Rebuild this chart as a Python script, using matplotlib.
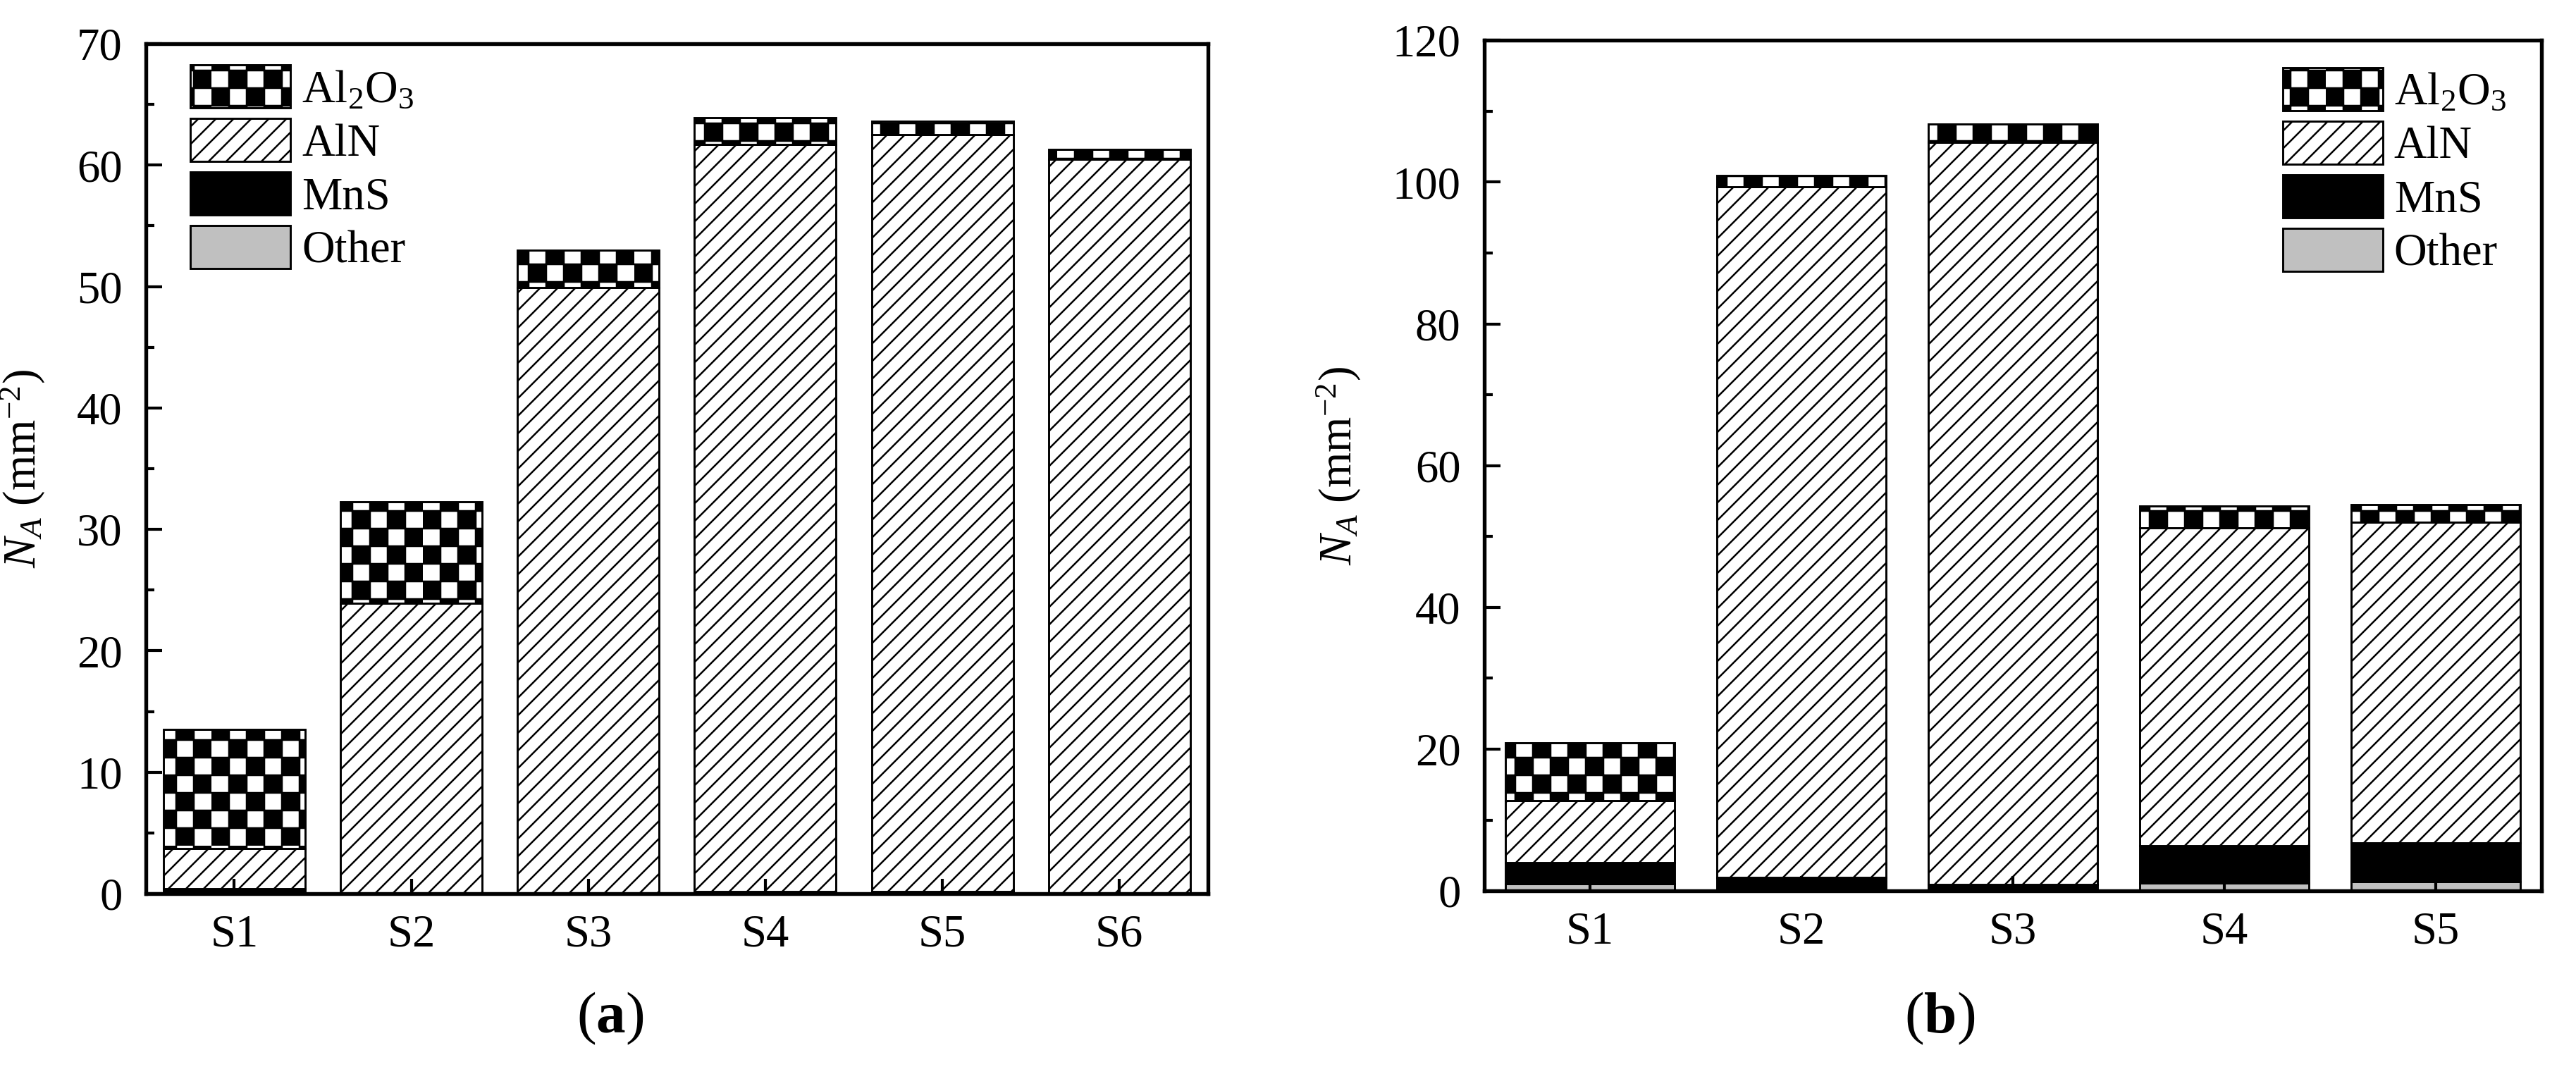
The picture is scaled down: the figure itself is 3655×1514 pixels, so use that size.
import warnings
import numpy as np
import matplotlib
matplotlib.use('Agg')
import matplotlib.pyplot as plt
from matplotlib import hatch as mhatch
from matplotlib.path import Path

# data (number density, mm^-2)
samples_a = ['S1', 'S2', 'S3', 'S4', 'S5', 'S6']
other_a = [0.0, 0.0, 0.0, 0.0, 0.0, 0.0]
mns_a = [0.4, 0.0, 0.0, 0.15, 0.2, 0.0]
aln_a = [3.3, 23.9, 49.9, 61.55, 62.3, 60.5]
al2o3_a = [9.8, 8.4, 3.1, 2.2, 1.1, 0.8]

samples_b = ['S1', 'S2', 'S3', 'S4', 'S5']
other_b = [1.0, 0.0, 0.0, 1.1, 1.3]
mns_b = [3.0, 1.9, 0.9, 5.3, 5.5]
aln_b = [8.7, 97.4, 104.7, 44.8, 45.2]
al2o3_b = [8.2, 1.6, 2.6, 3.1, 2.5]

labels = ['Other', 'MnS', 'AlN', r'Al$_2$O$_3$']


# checkerboard hatch ('c'), filled squares in the hatch unit cell
class CheckerHatch:
    def __init__(self, hatch, density):
        self.n = hatch.count('c') * density * 2
        self.num_vertices = self.n * self.n // 2 * 5

    def set_vertices_and_codes(self, vertices, codes):
        n = self.n
        step = 1.0 / n
        k = 0
        for i in range(n):
            for j in range(n):
                if (i + j) % 2:
                    continue
                x0, y0 = i * step, j * step
                vertices[k:k + 5] = [[x0, y0], [x0 + step, y0],
                                     [x0 + step, y0 + step], [x0, y0 + step],
                                     [x0, y0]]
                codes[k:k + 5] = [Path.MOVETO, Path.LINETO, Path.LINETO,
                                  Path.LINETO, Path.CLOSEPOLY]
                k += 5


mhatch._hatch_types.append(CheckerHatch)
warnings.filterwarnings('ignore', message='hatch must consist')

plt.rcParams['font.family'] = ['Liberation Serif', 'DejaVu Serif']
plt.rcParams['mathtext.fontset'] = 'custom'
plt.rcParams['mathtext.rm'] = 'Liberation Serif'
plt.rcParams['mathtext.it'] = 'Liberation Serif:italic'
plt.rcParams['mathtext.bf'] = 'Liberation Serif:bold'
plt.rcParams['hatch.linewidth'] = 0.6
plt.rcParams['hatch.color'] = 'black'
plt.rcParams['font.size'] = 15.5

styles = [
    dict(color='#c0c0c0', hatch=None),
    dict(color='black', hatch=None),
    dict(color='white', hatch='////'),
    dict(color='white', hatch='c'),
]

fig = plt.figure(figsize=(3655 / 300, 1514 / 300), dpi=300)
ax_a = fig.add_axes([0.0566, 0.1625, 0.4123, 0.7965])
ax_b = fig.add_axes([0.5762, 0.1650, 0.4104, 0.7972])


def stacked(ax, samples, series):
    x = np.arange(len(samples))
    bottom = np.zeros(len(samples))
    handles = []
    for vals, lab, st in zip(series, labels, styles):
        h = ax.bar(x, vals, 0.8, bottom=bottom, color=st['color'],
                   hatch=st['hatch'], edgecolor='black', linewidth=0.7,
                   label=lab)
        handles.append(h)
        bottom = bottom + np.array(vals)
    ax.set_xticks(x)
    ax.set_xticklabels(samples)
    ax.set_xlim(-0.5, len(samples) - 0.5)
    ax.tick_params(axis='both', direction='in', width=1.0, top=False, right=False)
    ax.tick_params(axis='y', which='major', length=5.5, pad=8)
    ax.tick_params(axis='y', which='minor', length=2.8, width=1.0, direction='in')
    ax.tick_params(axis='x', which='major', length=5, pad=7)
    for sp in ax.spines.values():
        sp.set_linewidth(1.3)
    ax.set_ylabel(r'$N_A$ (mm$^{-2}$)')
    return handles[::-1]


h_a = stacked(ax_a, samples_a, [other_a, mns_a, aln_a, al2o3_a])
ax_a.set_ylim(0, 70)
ax_a.set_yticks(np.arange(0, 71, 10))
ax_a.set_yticks(np.arange(5, 70, 10), minor=True)
ax_a.yaxis.set_label_coords(-0.093, 0.5)
ax_a.legend(h_a, [h.get_label() for h in h_a], loc='upper left',
            bbox_to_anchor=(0.042, 0.975), frameon=False, borderpad=0,
            borderaxespad=0, handlelength=2.2, handleheight=1.07,
            labelspacing=0.15, handletextpad=0.25)

h_b = stacked(ax_b, samples_b, [other_b, mns_b, aln_b, al2o3_b])
ax_b.set_ylim(0, 120)
ax_b.set_yticks(np.arange(0, 121, 20))
ax_b.set_yticks(np.arange(10, 120, 20), minor=True)
ax_b.yaxis.set_label_coords(-0.115, 0.5)
ax_b.legend(h_b, [h.get_label() for h in h_b], loc='upper left',
            bbox_to_anchor=(0.755, 0.968), frameon=False, borderpad=0,
            borderaxespad=0, handlelength=2.2, handleheight=1.07,
            labelspacing=0.15, handletextpad=0.25)

fig.text(0.237, 0.045, r'($\mathbf{a}$)', ha='center', va='center', fontsize=20)
fig.text(0.753, 0.045, r'($\mathbf{b}$)', ha='center', va='center', fontsize=20)

fig.savefig('out.png', dpi=300)
